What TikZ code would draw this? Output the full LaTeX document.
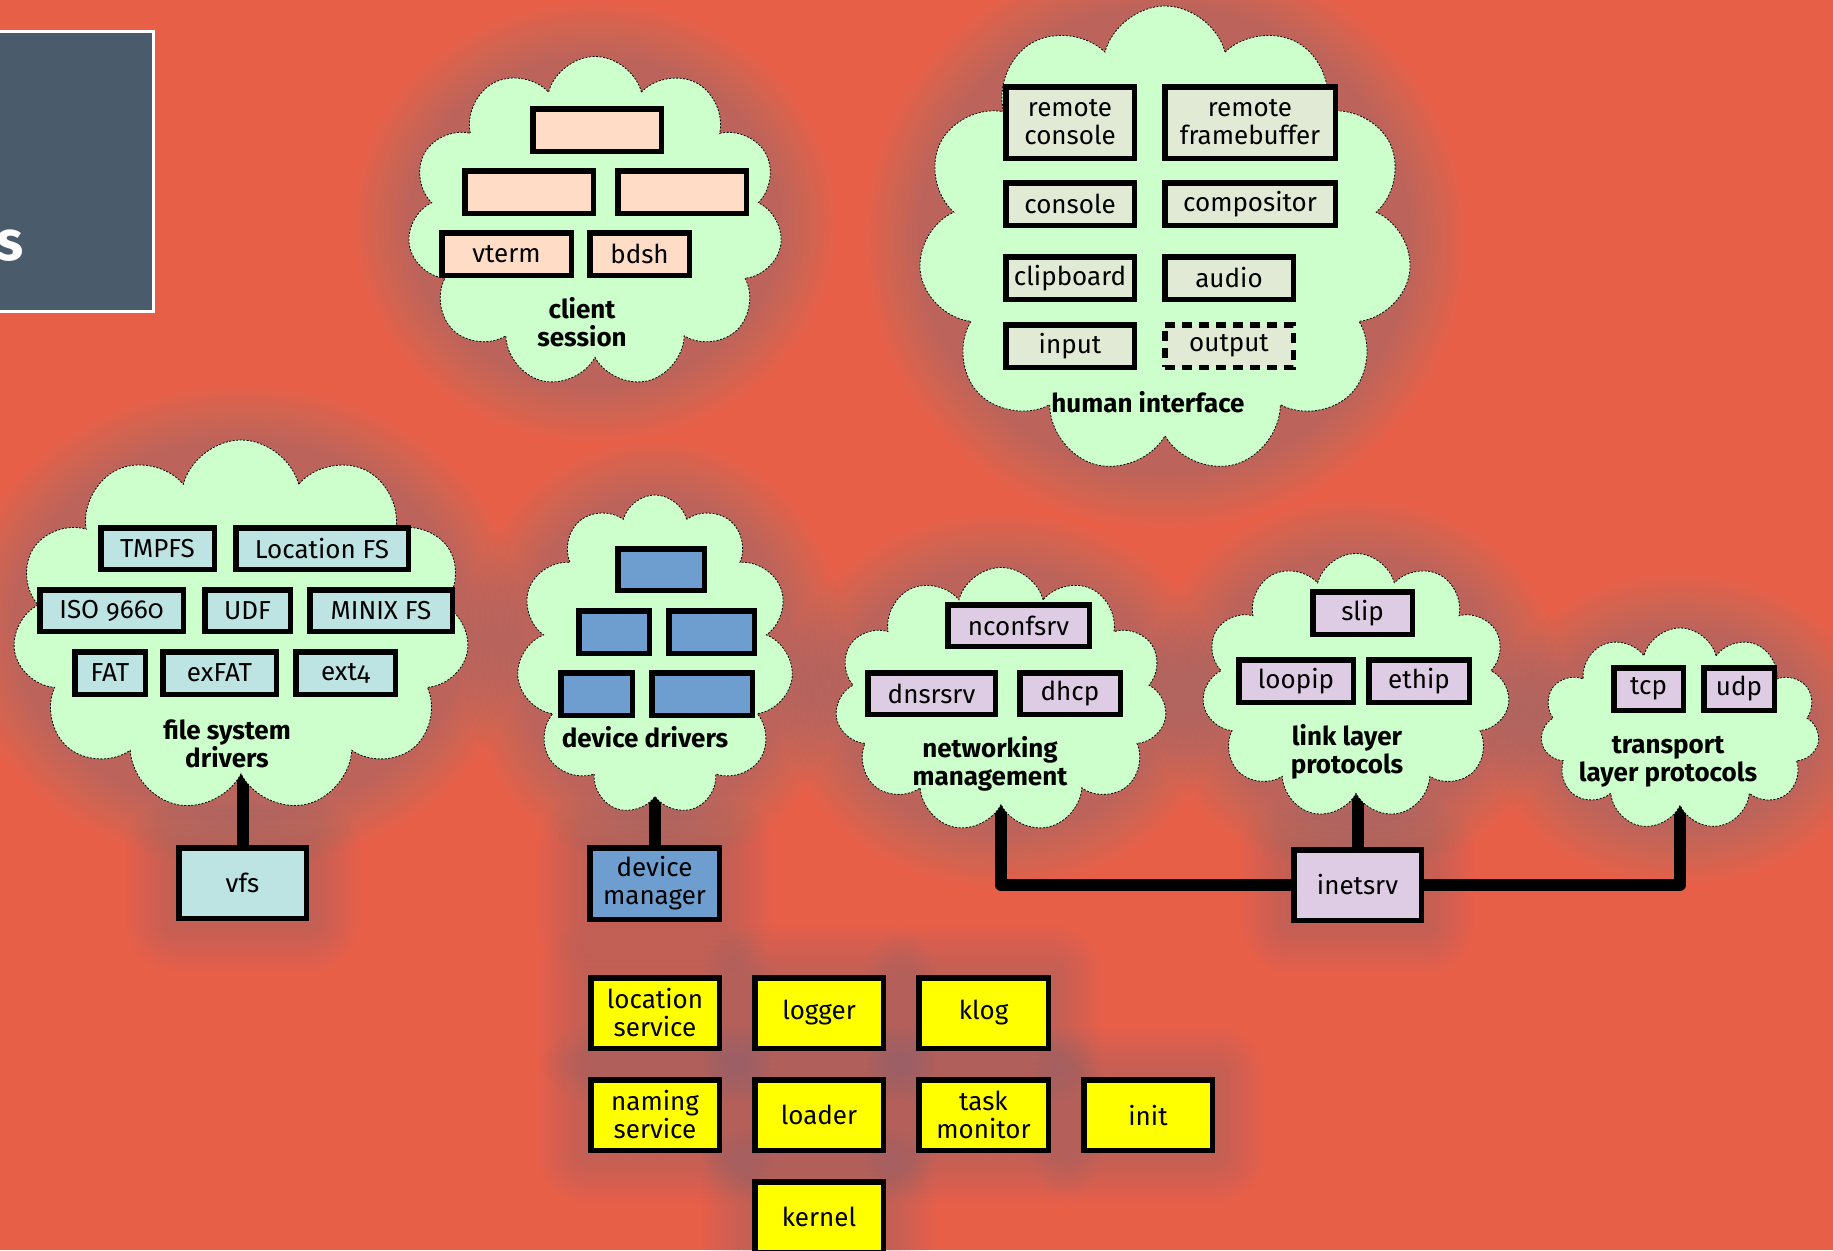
\documentclass[tikz,border=0pt]{standalone}
\usepackage{fontspec}
\setmainfont{Fira Sans}[Numbers=OldStyle]
\usetikzlibrary{shapes.symbols}
\definecolor{bgc}{RGB}{232,95,72}
\definecolor{cloudc}{RGB}{204,255,204}
\definecolor{glowc}{RGB}{110,125,140}
\definecolor{peach}{RGB}{255,220,198}
\definecolor{hic}{RGB}{224,234,212}
\definecolor{fsc}{RGB}{189,227,227}
\definecolor{devc}{RGB}{110,158,207}
\definecolor{netc}{RGB}{222,204,228}
\definecolor{kc}{RGB}{255,255,0}
\definecolor{slate}{RGB}{74,91,108}
\pgfdeclarelayer{bglayer}
\pgfdeclarelayer{glowlayer}
\pgfdeclarelayer{connlayer}
\pgfsetlayers{bglayer,glowlayer,connlayer,main}
\tikzset{
  every node/.style={font=\fontsize{26}{28}\selectfont, align=center},
  boxs/.style={draw, line width=5.5pt, inner sep=0pt},
  dashbox/.style={boxs, dash pattern=on 10pt off 7pt},
  cloudbox/.style={cloud, cloud puffs=11, cloud ignores aspect, draw, dash pattern=on 2pt off 1.5pt, line width=0.8pt, fill=cloudc, inner sep=0pt},
  glowbox/.style={fill=glowc, opacity=0.03},
  glowell/.style={fill=glowc, opacity=0.04},
  lbl/.style={font=\fontsize{26}{28}\selectfont\bfseries},
  conn/.style={line width=12pt, line join=round},
}
% box: name, x1, y1, x2, y2, style, text
\newcommand\bx[7]{\node[#6, minimum width={#4-#2-5.5}, minimum height={#5-#3-5.5}] (#1) at ({(#2+#4)/2},{(#3+#5)/2}) {#7};}
% box with glow
\newcommand\gbx[7]{%
  \begin{pgfonlayer}{glowlayer}
  \foreach \k in {1,...,10}{\fill[glowbox, rounded corners={\k*5}] ({#2-\k*5},{#3-\k*5}) rectangle ({#4+\k*5},{#5+\k*5});}
  \end{pgfonlayer}
  \bx{#1}{#2}{#3}{#4}{#5}{#6}{#7}}
% cloud: name, cx, cy, w, h
\newcommand\mycloud[5]{%
  \begin{pgfonlayer}{glowlayer}
  \foreach \k in {0,...,9}{\fill[glowell] (#2,#3) ellipse [x radius={#4/2+6*\k}, y radius={#5/2+6*\k}];}
  \end{pgfonlayer}
  \node[cloudbox, minimum width=#4, minimum height=#5] (#1) at (#2,#3) {};}
\begin{document}
\begin{tikzpicture}[x=1pt,y=-1pt]
\useasboundingbox (0,0) rectangle (1833,1250);
\begin{pgfonlayer}{bglayer}
\fill[bgc] (0,0) rectangle (1833,1250);
\end{pgfonlayer}

% title panel
\node[draw=white, line width=3pt, fill=slate, minimum width=172pt, minimum height=280pt, inner sep=0pt] (panel) at (67.5,171.5) {};
\node[text=white, font=\fontsize{56}{60}\selectfont\bfseries, anchor=base east, inner sep=0pt] (ttl) at (24,260) {s};

% client session
\mycloud{cs}{595}{222}{375}{331}
\bx{cs1}{530}{106}{664}{154}{boxs, fill=peach}{}
\bx{cs2}{462}{168}{596}{216}{boxs, fill=peach}{}
\bx{cs3}{615}{168}{749}{216}{boxs, fill=peach}{}
\bx{vterm}{439}{230}{574}{278}{boxs, fill=peach}{vterm}
\bx{bdsh}{587}{230}{692}{278}{boxs, fill=peach}{bdsh}
\node[lbl] (csl) at (582,322) {client\\session};

% human interface
\mycloud{hi}{1165}{240}{494}{468}
\bx{rcon}{1003}{84}{1137}{161}{boxs, fill=hic}{remote\\console}
\bx{rfb}{1162}{84}{1338}{161}{boxs, fill=hic}{remote\\framebuffer}
\bx{con}{1003}{180}{1137}{228}{boxs, fill=hic}{console}
\bx{comp}{1162}{180}{1338}{228}{boxs, fill=hic}{compositor}
\bx{clip}{1003}{254}{1137}{302}{boxs, fill=hic}{clipboard}
\bx{audio}{1162}{254}{1296}{302}{boxs, fill=hic}{audio}
\bx{input}{1003}{322}{1137}{370}{boxs, fill=hic}{input}
\bx{output}{1162}{322}{1296}{370}{dashbox, fill=hic}{output}
\node[lbl] (hil) at (1148,402) {human interface};

% file system drivers
\mycloud{fsd}{241}{626}{457}{372}
\bx{tmpfs}{98}{525}{217}{572}{boxs, fill=fsc}{TMPFS}
\bx{locfs}{233}{525}{411}{572}{boxs, fill=fsc}{Location FS}
\bx{iso}{37}{587}{186}{634}{boxs, fill=fsc}{ISO 9660}
\bx{udf}{202}{587}{293}{634}{boxs, fill=fsc}{UDF}
\bx{minix}{307}{587}{455}{634}{boxs, fill=fsc}{MINIX FS}
\bx{fat}{72}{649}{148}{697}{boxs, fill=fsc}{FAT}
\bx{exfat}{160}{649}{279}{697}{boxs, fill=fsc}{exFAT}
\bx{ext4}{293}{649}{398}{697}{boxs, fill=fsc}{ext4}
\node[lbl] (fsl) at (227,744) {file system\\drivers};
\gbx{vfs}{176}{845}{309}{921}{boxs, fill=fsc}{vfs}

% device drivers
\mycloud{dd}{655}{655}{277}{320}
\bx{dd1}{615}{546}{707}{593}{boxs, fill=devc}{}
\bx{dd2}{576}{608}{652}{656}{boxs, fill=devc}{}
\bx{dd3}{666}{608}{757}{656}{boxs, fill=devc}{}
\bx{dd4}{558}{670}{635}{718}{boxs, fill=devc}{}
\bx{dd5}{649}{670}{755}{718}{boxs, fill=devc}{}
\node[lbl] (ddl) at (645,737) {device drivers};
\gbx{dm}{587}{845}{722}{922}{boxs, fill=devc}{device\\manager}

% networking management
\mycloud{nm}{1001}{700}{332}{265}
\bx{nconf}{945}{602}{1092}{649}{boxs, fill=netc}{nconfsrv}
\bx{dnsr}{865}{670}{998}{717}{boxs, fill=netc}{dnsrsrv}
\bx{dhcp}{1017}{670}{1123}{717}{boxs, fill=netc}{dhcp}
\node[lbl] (nml) at (990,764) {networking\\management};

% link layer protocols
\mycloud{ll}{1356}{686}{308}{265}
\bx{slip}{1310}{589}{1415}{637}{boxs, fill=netc}{slip}
\bx{loopip}{1236}{657}{1356}{705}{boxs, fill=netc}{loopip}
\bx{ethip}{1366}{657}{1472}{705}{boxs, fill=netc}{ethip}
\node[lbl] (lll) at (1347,752) {link layer\\protocols};

% transport layer protocols
\mycloud{tl}{1680}{729}{279}{202}
\bx{tcp}{1611}{665}{1686}{713}{boxs, fill=netc}{tcp}
\bx{udp}{1701}{665}{1777}{713}{boxs, fill=netc}{udp}
\node[lbl] (tll) at (1668,762) {transport\\layer protocols};

\gbx{inet}{1291}{847}{1424}{923}{boxs, fill=netc}{inetsrv}

% kernel-level services
\gbx{locsrv}{588}{975}{722}{1051}{boxs, fill=kc}{location\\service}
\gbx{logger}{752}{975}{886}{1051}{boxs, fill=kc}{logger}
\gbx{klog}{916}{975}{1051}{1051}{boxs, fill=kc}{klog}
\gbx{namsrv}{588}{1077}{722}{1153}{boxs, fill=kc}{naming\\service}
\gbx{loader}{752}{1077}{886}{1153}{boxs, fill=kc}{loader}
\gbx{taskmon}{916}{1077}{1051}{1153}{boxs, fill=kc}{task\\monitor}
\gbx{init}{1081}{1077}{1215}{1153}{boxs, fill=kc}{init}
\gbx{kernel}{752}{1179}{886}{1255}{boxs, fill=kc}{kernel}

% connectors
\begin{pgfonlayer}{connlayer}
\draw[conn] (vfs.north) -- (vfs.north |- fsd.center);
\draw[conn] (dm.north) -- (dm.north |- dd.center);
\draw[conn] (nm.center) |- (inet.west);
\draw[conn] (inet.north) -- (inet.north |- ll.center);
\draw[conn] (inet.east) -| (tl.center);
\end{pgfonlayer}
\end{tikzpicture}
\end{document}
